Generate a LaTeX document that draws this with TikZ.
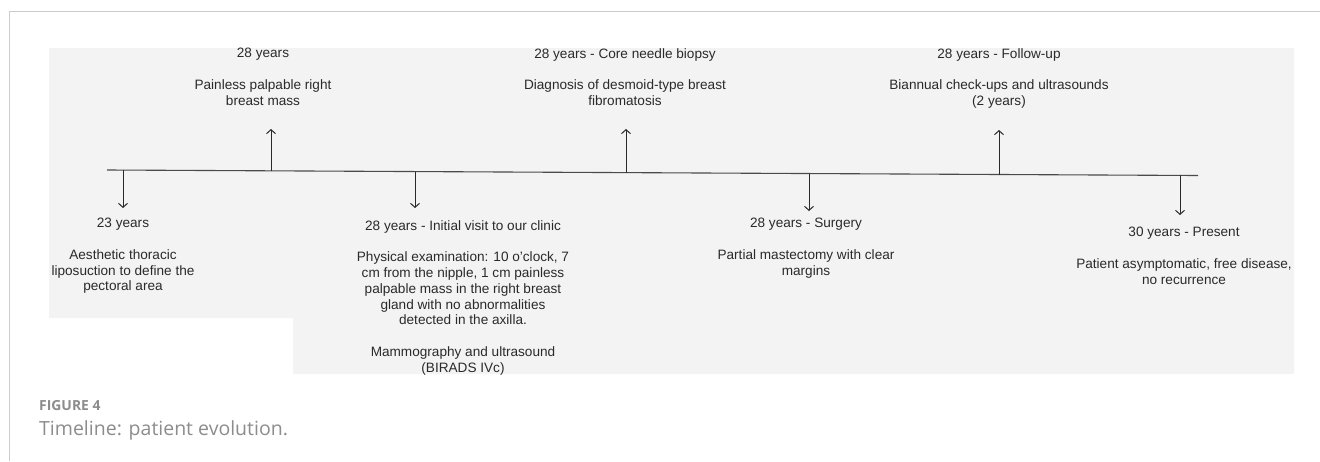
\documentclass[tikz,border=0pt]{standalone}
\usepackage{fontspec}
\setmainfont{Liberation Sans}
\newfontfamily\capfont{Open Sans}
\usetikzlibrary{arrows.meta}
\definecolor{panelgray}{HTML}{F3F3F3}
\definecolor{framegray}{HTML}{CCCCCC}
\definecolor{inkgray}{HTML}{2A2A2A}
\definecolor{capgray}{HTML}{8C8C8C}

\begin{document}
\begin{tikzpicture}[x=1pt,y=-1pt,
  event/.style={anchor=north,align=center,inner sep=0pt,text=inkgray,
    font=\fontsize{13.6}{15.8}\selectfont},
  tick/.style={-{Straight Barb[length=4pt,width=9pt]},draw=inkgray,line width=1pt}]
\useasboundingbox (0,0) rectangle (1320,461);

% Frame and panel
\draw[framegray] (1320,11) -- (9,11) -- (9,461);
\fill[panelgray] (49,48) -- (1294,48) -- (1294,374) -- (293,374)
  -- (293,318) -- (49,318) -- cycle;

% Timeline
\coordinate (start) at (107,170);
\coordinate (end) at (1198,175.5);
\draw[inkgray!85,line width=1.1pt] (start) -- (end);

% Points on the line and arrow heads
\coordinate (p1) at (123,170.1);  \coordinate (h1) at (123,208);
\coordinate (p2) at (271,170.8);  \coordinate (h2) at (271,129);
\coordinate (p3) at (415,171.6);  \coordinate (h3) at (415,208);
\coordinate (p4) at (626,172.6);  \coordinate (h4) at (626,129);
\coordinate (p5) at (809,173.5);  \coordinate (h5) at (809,211);
\coordinate (p6) at (999,174.5);  \coordinate (h6) at (999,130);
\coordinate (p7) at (1180,175.4); \coordinate (h7) at (1180,215);

\draw[tick] (p1) -- (h1);
\draw[tick] (p2) -- (h2);
\draw[tick] (p3) -- (h3);
\draw[tick] (p4) -- (h4);
\draw[tick] (p5) -- (h5);
\draw[tick] (p6) -- (h6);
\draw[tick] (p7) -- (h7);

% Above the line
\node[event] (mass) at (263,48) {28 years\\[15.8pt]Painless palpable right\\breast mass};
\node[event] (biopsy) at (625,48) {28 years - Core needle biopsy\\[15.8pt]Diagnosis of desmoid-type breast\\fibromatosis};
\node[event] (followup) at (999,48) {28 years - Follow-up\\[15.8pt]Biannual check-ups and ultrasounds\\(2 years)};

% Below the line
\node[event] (lipo) at (123,218) {23 years\\[15.8pt]Aesthetic thoracic\\liposuction to define the\\pectoral area};
\node[event] (visit) at (463,220) {28 years - Initial visit to our clinic\\[15.8pt]Physical examination: 10 o'clock, 7\\cm from the nipple, 1 cm painless\\palpable mass in the right breast\\gland with no abnormalities\\detected in the axilla.\\[15.8pt]Mammography and ultrasound\\(BIRADS IVc)};
\node[event] (surgery) at (806,218) {28 years - Surgery\\[15.8pt]Partial mastectomy with clear\\margins};
\node[event] (present) at (1184,227) {30 years - Present\\[15.8pt]Patient asymptomatic, free disease,\\no recurrence};

% Caption
\node[anchor=west,inner sep=0pt,text=capgray,font=\capfont\fontsize{13.9}{16}\selectfont\bfseries] (fignum) at (39,406) {FIGURE 4};
\node[anchor=west,inner sep=0pt,text=capgray,font=\capfont\fontsize{19.5}{22}\selectfont] (figcap) at (39,430) {Timeline: patient evolution.};
\end{tikzpicture}
\end{document}
